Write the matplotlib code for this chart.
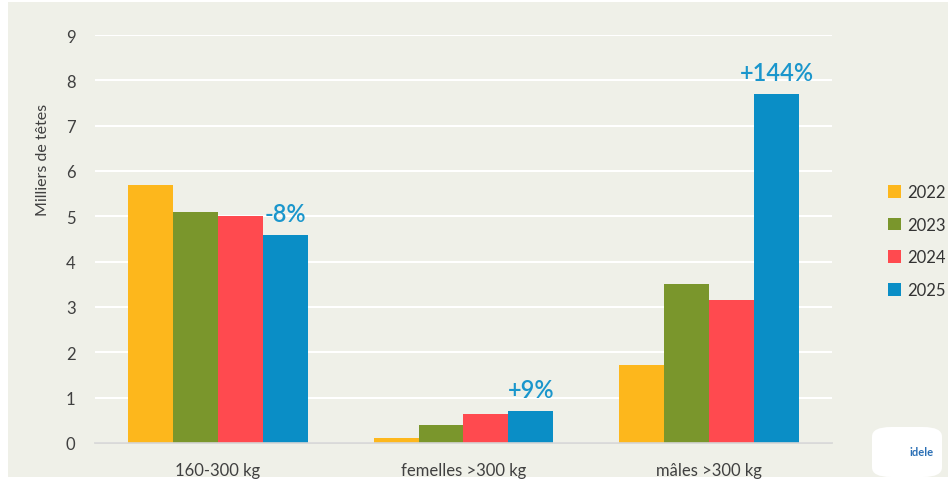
import matplotlib
matplotlib.use("Agg")
import matplotlib.pyplot as plt
import numpy as np
from matplotlib.patches import FancyBboxPatch

categories = ["160-300 kg", "femelles >300 kg", "mâles >300 kg"]
years = ["2022", "2023", "2024", "2025"]
v2022 = [5.7, 0.1, 1.72]
v2023 = [5.1, 0.4, 3.5]
v2024 = [5.0, 0.65, 3.16]
v2025 = [4.58, 0.7, 7.7]
changes = ["-8%", "+9%", "+144%"]
colors = ["#FDB71C", "#7A962C", "#FF4A4F", "#0A8EC6"]

plt.rcParams['font.family'] = ['Lato', 'DejaVu Sans']
bg = "#EFF0E8"
fig = plt.figure(figsize=(9.48, 4.81), dpi=100, facecolor="white")
fig.patches.append(plt.Rectangle((8/948, 3/481), 1 - 8/948, 1 - 6/481, transform=fig.transFigure,
                                 facecolor=bg, edgecolor="none", zorder=-10))
ax = fig.add_axes([95/948, 1 - 444/481, 737/948, 408/481])
ax.set_facecolor(bg)

series = [v2022, v2023, v2024, v2025]
x = np.arange(len(categories))
w = 0.183
for i, (vals, c, yr) in enumerate(zip(series, colors, years)):
    ax.bar(x + (i - 1.5) * w, vals, width=w, color=c, label=yr, zorder=3)

for xi, val, ch in zip(x, v2025, changes):
    ax.text(xi + 1.5 * w, val + 0.22, ch, ha="center", va="bottom", fontsize=17,
            color="#1A96CC", fontweight="semibold", zorder=4)

ax.set_xlim(-0.5, 2.5)
ax.set_ylim(0, 9)
ax.set_yticks(range(0, 10))
ax.grid(axis="y", color="white", linewidth=1.5, zorder=0)
ax.set_axisbelow(True)
for s in ["top", "right", "left"]:
    ax.spines[s].set_visible(False)
ax.spines["bottom"].set_color("#D5D5D5")
ax.spines["bottom"].set_linewidth(1.2)
ax.spines["bottom"].set_zorder(5)
ax.tick_params(axis="both", length=0, labelsize=12, labelcolor="#404040")
ax.tick_params(axis="y", pad=14)
ax.tick_params(axis="x", pad=14)
ax.set_xticks(x)
ax.set_xticklabels(categories)

fig.text(43/948, 1 - 160/481, "Milliers de têtes", rotation=90, ha="center", va="center",
         fontsize=11.5, color="#404040")

leg = fig.legend(loc="upper left", bbox_to_anchor=(873/948, 1 - 170/481), frameon=False,
                 fontsize=12, handlelength=0.8, handleheight=0.8, handletextpad=0.35,
                 labelspacing=1.0, labelcolor="#333333")

# logo
logo = FancyBboxPatch((872/948, 1 - 478/481), 70/948, 50/481, boxstyle="round,pad=0.0,rounding_size=0.02",
                      transform=fig.transFigure, facecolor="white", edgecolor="none")
fig.patches.append(logo)
fig.text(922/948, 1 - 453/481, "idele", ha="center", va="center", fontsize=8,
         fontweight="bold", color="#2A6FB5")

fig.savefig("out.png", dpi=100, facecolor=fig.get_facecolor())
